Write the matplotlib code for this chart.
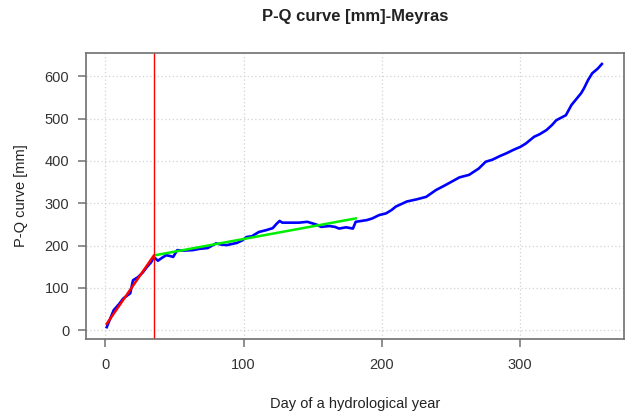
import numpy as np
import matplotlib
matplotlib.use("Agg")
import matplotlib.pyplot as plt

plt.rcParams['font.family'] = ['Liberation Sans', 'DejaVu Sans']

# cumulative P-Q curve
days = [1, 6, 10, 13, 18, 20, 23.5, 27, 30, 33, 35, 36, 38, 41, 44, 47, 49, 52, 57, 63,
        68, 74, 80, 84, 88, 92, 95, 99, 102, 106, 111, 116, 121, 124, 126, 128, 134, 140,
        146, 150, 153, 156, 162, 166, 169, 174, 179, 181, 185, 189, 193, 198, 203, 207,
        210, 214, 218, 225, 232, 239, 246, 251, 256, 263, 270, 275, 280, 285, 290, 295,
        300, 304, 310, 314, 319, 323, 326, 333, 335, 337, 341, 344, 346, 349, 352, 356, 359]
pq = [7, 47, 62, 75, 87, 118, 125, 136, 149, 160, 172, 170, 164, 171, 177, 175, 173, 189,
      188, 189, 192, 194, 205, 202, 201, 204, 206, 212, 220, 222, 232, 236, 241, 252, 258,
      254, 254, 254, 256, 252, 249, 244, 246, 244, 240, 243, 240, 256, 258, 260, 264, 272,
      276, 284, 292, 298, 304, 309, 315, 331, 343, 352, 361, 367, 382, 398, 403, 411, 418,
      426, 433, 441, 457, 463, 473, 485, 496, 508, 520, 532, 548, 560, 571, 591, 607, 618, 629]

# breakpoint and the two fitted segments
break_day = 35
fit1_x = [1, 35]
fit1_y = [15, 176]
fit2_x = [36, 181]
fit2_y = [177, 264]

xticks = [0, 100, 200, 300]
yticks = [0, 100, 200, 300, 400, 500, 600]

fig = plt.figure(figsize=(6.33, 4.17), dpi=100)
ax = fig.add_axes([86/633, 1-339/417, (624-86)/633, (339-53)/417])

ax.grid(True, color='#d3d3d3', linestyle=(0, (1, 2)), linewidth=0.9)
ax.set_axisbelow(True)

ax.plot(days, pq, color='blue', lw=1.9)
ax.plot(fit1_x, fit1_y, color='red', lw=1.8)
ax.plot(fit2_x, fit2_y, color='#00ee00', lw=1.8)
ax.axvline(break_day, color='red', lw=1)

ax.set_xlim(-14, 375)
ax.set_ylim(-21, 655)
ax.set_xticks(xticks)
ax.set_yticks(yticks)

for s in ax.spines.values():
    s.set_color('#707070')
    s.set_linewidth(1.2)
ax.tick_params(colors='#707070', labelcolor='#333333', labelsize=10.5, length=6, width=1.1)
ax.tick_params(axis='x', pad=8)
ax.tick_params(axis='y', pad=6)

ax.set_xlabel('Day of a hydrological year', fontsize=10.5, color='#222222', labelpad=18)
ax.set_ylabel('P-Q curve [mm]', fontsize=10.5, color='#222222', labelpad=12)
fig.text(355/633, 1-17/417, 'P-Q curve [mm]-Meyras', ha='center', va='center',
         fontsize=12, fontweight='bold', color='#222222')

fig.savefig('out.png', dpi=100)
